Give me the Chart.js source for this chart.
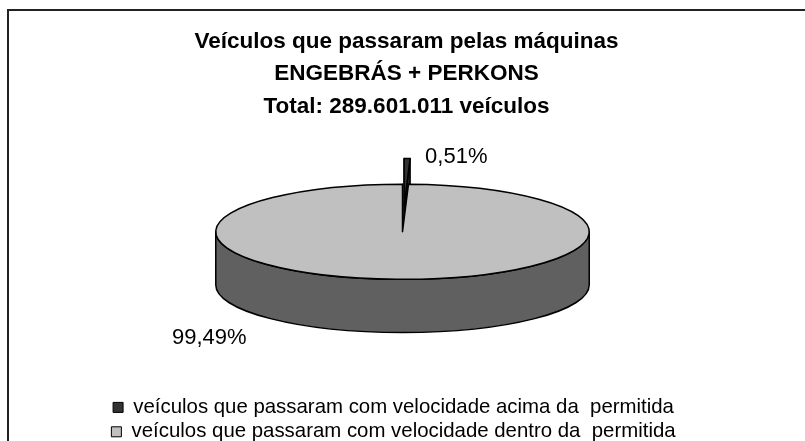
<!DOCTYPE html>
<html>
<head>
<meta charset="utf-8">
<script src="https://cdn.jsdelivr.net/npm/chart.js@4.4.0/dist/chart.umd.min.js"></script>
<style>
    html, body { margin: 0; padding: 0; background: #fff; }
</style>
</head>
<body>
<canvas id="myChart" width="805" height="441"></canvas>
<script>
const titleLines = ['Veículos que passaram pelas máquinas', 'ENGEBRÁS + PERKONS', 'Total: 289.601.011 veículos'];
const categories = [
    'veículos que passaram com velocidade acima da  permitida',
    'veículos que passaram com velocidade dentro da  permitida'
];
const shares = [0.51, 99.49];
const shareLabels = ['0,51%', '99,49%'];
const topColors = ['#333333', '#c0c0c0'];
const sideColors = ['#262626', '#606060'];

const fontFamily = '"Liberation Sans", Arial, sans-serif';

// corner frame like the original spreadsheet chart area,
// plus small horizontal nudges of the title and legend blocks
const framePlugin = {
    id: 'frame',
    afterLayout(chart, args, opts) {
        if (chart.legend) {
            chart.legend.left += opts.legendShift;
            chart.legend.right += opts.legendShift;
        }
        if (chart.titleBlock) {
            chart.titleBlock.left += opts.titleShift;
            chart.titleBlock.right += opts.titleShift;
        }
    },
    beforeDraw(chart) {
        const ctx = chart.ctx;
        ctx.save();
        ctx.strokeStyle = '#222';
        ctx.lineWidth = 2;
        ctx.beginPath();
        ctx.moveTo(8, chart.height);
        ctx.lineTo(8, 10);
        ctx.lineTo(chart.width, 10);
        ctx.stroke();
        ctx.restore();
    }
};

// draws the pie arcs as a tilted 3D disc using the arcs Chart.js laid out
const pie3dPlugin = {
    id: 'pie3d',
    beforeDatasetsDraw(chart, args, opts) {
        const ctx = chart.ctx;
        const meta = chart.getDatasetMeta(0);
        const arcs = meta.data.map((arc, i) => ({
            i,
            ...arc.getProps(['x', 'y', 'startAngle', 'endAngle', 'outerRadius'], true)
        }));
        const R = arcs[0].outerRadius;
        const rx = R * opts.widen;
        const ry = rx * opts.tilt;
        const depth = rx * opts.depth;

        const midOf = a => (a.startAngle + a.endAngle) / 2;
        arcs.sort((a, b) => Math.sin(midOf(a)) - Math.sin(midOf(b)));

        ctx.save();
        ctx.lineWidth = 1.5;
        ctx.strokeStyle = '#000';
        ctx.lineJoin = 'round';

        const centers = {};
        arcs.forEach(a => {
            const mid = midOf(a);
            const ex = (opts.explode[a.i] || 0) * rx;
            const cx = a.x + Math.cos(mid) * ex;
            const cy = a.y - depth / 2 + Math.sin(mid) * ex * opts.tilt;
            centers[a.i] = { cx, cy, a };

            // cut faces
            [a.startAngle, a.endAngle].forEach(t => {
                const px = cx + Math.cos(t) * rx;
                const py = cy + Math.sin(t) * ry;
                ctx.beginPath();
                ctx.moveTo(cx, cy);
                ctx.lineTo(px, py);
                ctx.lineTo(px, py + depth);
                ctx.lineTo(cx, cy + depth);
                ctx.closePath();
                ctx.fillStyle = sideColors[a.i];
                ctx.fill();
                ctx.stroke();
            });

            // front wall
            const b1 = Math.max(a.startAngle, 0);
            const b2 = Math.min(a.endAngle, Math.PI);
            if (b2 > b1) {
                ctx.beginPath();
                ctx.ellipse(cx, cy, rx, ry, 0, b1, b2);
                ctx.ellipse(cx, cy + depth, rx, ry, 0, b2, b1, true);
                ctx.closePath();
                ctx.fillStyle = sideColors[a.i];
                ctx.fill();
                ctx.stroke();
            }

            // top face
            ctx.beginPath();
            ctx.moveTo(cx, cy);
            ctx.ellipse(cx, cy, rx, ry, 0, a.startAngle, a.endAngle);
            ctx.closePath();
            ctx.fillStyle = topColors[a.i];
            ctx.fill();
            ctx.stroke();
        });

        // percentage labels
        ctx.fillStyle = '#000';
        ctx.font = '22px ' + fontFamily;
        ctx.textBaseline = 'middle';

        const small = centers[0];
        const sx = small.cx + Math.cos(small.a.endAngle) * rx;
        const sy = small.cy + Math.sin(small.a.endAngle) * ry;
        ctx.textAlign = 'left';
        ctx.fillText(shareLabels[0], sx + opts.labelGap, sy - 2);

        const big = centers[1];
        ctx.textAlign = 'right';
        ctx.fillText(shareLabels[1], big.cx - rx * opts.bigLabelX, big.cy + ry + depth + 5);

        ctx.restore();
        return false;
    }
};

new Chart(document.getElementById('myChart').getContext('2d'), {
    type: 'pie',
    data: {
        labels: categories,
        datasets: [{
            data: shares,
            backgroundColor: topColors,
            borderColor: '#000',
            borderWidth: 1
        }]
    },
    options: {
        responsive: false,
        animation: false,
        layout: { padding: { top: 0, bottom: -11, left: 0, right: 0 } },
        plugins: {
            title: {
                display: true,
                text: titleLines,
                color: '#000',
                font: { family: fontFamily, size: 22.5, weight: 'bold', lineHeight: 1.43 },
                padding: { top: 26, bottom: 1 }
            },
            legend: {
                position: 'bottom',
                labels: {
                    boxWidth: 10,
                    boxHeight: 10,
                    padding: 4,
                    color: '#000',
                    font: { family: fontFamily, size: 20.4 }
                }
            },
            tooltip: { enabled: false },
            frame: { legendShift: -9, titleShift: 4 },
            pie3d: {
                widen: 1.39,
                tilt: 0.255,
                depth: 0.285,
                explode: [0.54, 0],
                labelGap: 15,
                bigLabelX: 0.835
            }
        }
    },
    plugins: [framePlugin, pie3dPlugin]
});
</script>
</body>
</html>
